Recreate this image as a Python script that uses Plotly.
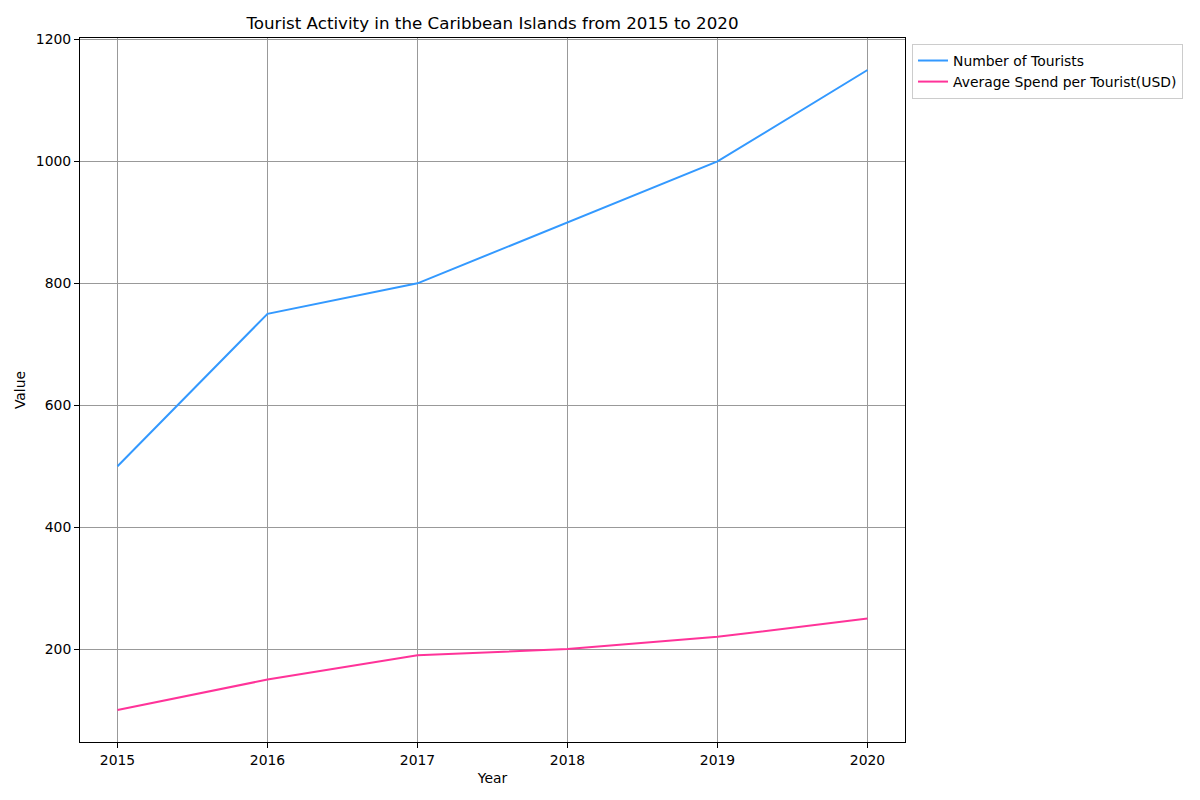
import plotly.graph_objects as go

years = [2015, 2016, 2017, 2018, 2019, 2020]
tourists = [500, 750, 800, 900, 1000, 1150]
spend = [100, 150, 190, 200, 220, 250]
y_ticks = [200, 400, 600, 800, 1000, 1200]

FONT = "DejaVu Sans"
fig = go.Figure()
fig.add_trace(go.Scatter(x=years, y=tourists, mode="lines", name="Number of Tourists",
                         line=dict(color="#3399ff", width=2)))
fig.add_trace(go.Scatter(x=years, y=spend, mode="lines", name="Average Spend per Tourist(USD)",
                         line=dict(color="#ff3399", width=2)))

axis_common = dict(showline=True, linecolor="black", linewidth=1, mirror=True,
                   ticks="outside", ticklen=5, tickcolor="black",
                   showgrid=True, gridcolor="#999999", gridwidth=1, zeroline=False,
                   tickfont=dict(family=FONT, size=13.9, color="black"))

fig.update_layout(
    width=1200, height=800,
    paper_bgcolor="white", plot_bgcolor="white",
    margin=dict(l=72, r=303, t=30, b=66),
    font=dict(family=FONT, size=13.9, color="black"),
    title=dict(text="Tourist Activity in the Caribbean Islands from 2015 to 2020",
               x=484.5 / 1200, xanchor="center", y=1 - 15 / 800, yanchor="middle",
               font=dict(family=FONT, size=16.7, color="black")),
    xaxis=dict(range=[2014.75, 2020.25], tickvals=years, ticktext=[str(y) for y in years],
               title=dict(text="Year", font=dict(family=FONT, size=13.9), standoff=6),
               **axis_common),
    yaxis=dict(range=[47.5, 1202.5], tickvals=y_ticks, ticktext=[str(t) for t in y_ticks],
               title=dict(text="Value", font=dict(family=FONT, size=13.9), standoff=6),
               **axis_common),
    legend=dict(x=1.0085, y=0.9915, xanchor="left", yanchor="top",
                bgcolor="white", bordercolor="#cccccc", borderwidth=1,
                font=dict(family=FONT, size=13.9, color="black")),
    showlegend=True,
)

fig.write_html("out.html")
